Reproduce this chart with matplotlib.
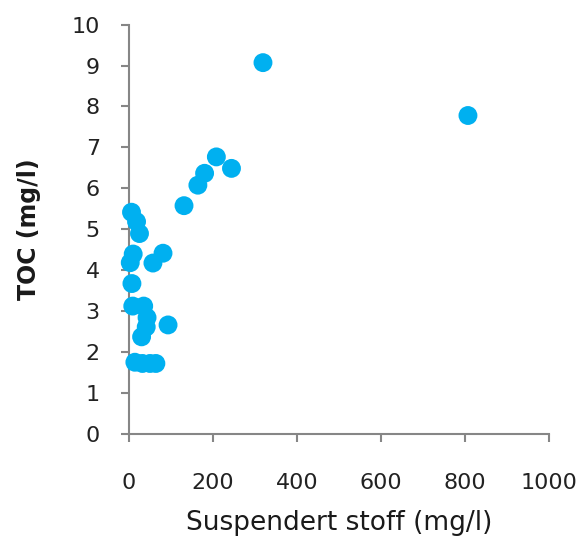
import numpy as np
import matplotlib
matplotlib.use("Agg")
import matplotlib.pyplot as plt

# suspended solids (mg/l) vs total organic carbon (mg/l)
susp = [319, 807, 208, 244, 180, 164, 131,
        6, 18, 25,
        10, 3, 81, 57, 7,
        9, 35, 43, 41, 93, 30,
        14, 32, 50, 64]
toc = [9.07, 7.78, 6.77, 6.49, 6.37, 6.08, 5.58,
       5.42, 5.19, 4.90,
       4.40, 4.19, 4.42, 4.18, 3.68,
       3.13, 3.13, 2.85, 2.62, 2.67, 2.38,
       1.76, 1.73, 1.73, 1.73]

xticks = [0, 200, 400, 600, 800, 1000]
yticks = list(range(0, 11))

fig = plt.figure(figsize=(5.85, 5.45), dpi=100)
ax = fig.add_axes([0.2205, 0.203, 0.718, 0.752])

ax.scatter(susp, toc, s=185, color="#00b0f0", edgecolors="none", zorder=3, clip_on=False)

ax.set_xlim(0, 1000)
ax.set_ylim(0, 10)
ax.set_xticks(xticks)
ax.set_xticklabels([str(v) for v in xticks])
ax.set_yticks(yticks)

for side in ["top", "right"]:
    ax.spines[side].set_visible(False)
for side in ["left", "bottom"]:
    ax.spines[side].set_color("#868686")
    ax.spines[side].set_linewidth(1.5)

ax.tick_params(axis="both", colors="#868686", width=1.5, length=6,
               labelcolor="#222222", labelsize=16)
ax.tick_params(axis="x", pad=22)
ax.tick_params(axis="y", pad=15)

ax.set_xlabel("Suspendert stoff (mg/l)", fontsize=19, color="#1a1a1a", labelpad=12)
ax.set_ylabel("TOC (mg/l)", fontsize=17, fontweight="bold", color="#1a1a1a", labelpad=22)

fig.savefig("out.png", dpi=100)
